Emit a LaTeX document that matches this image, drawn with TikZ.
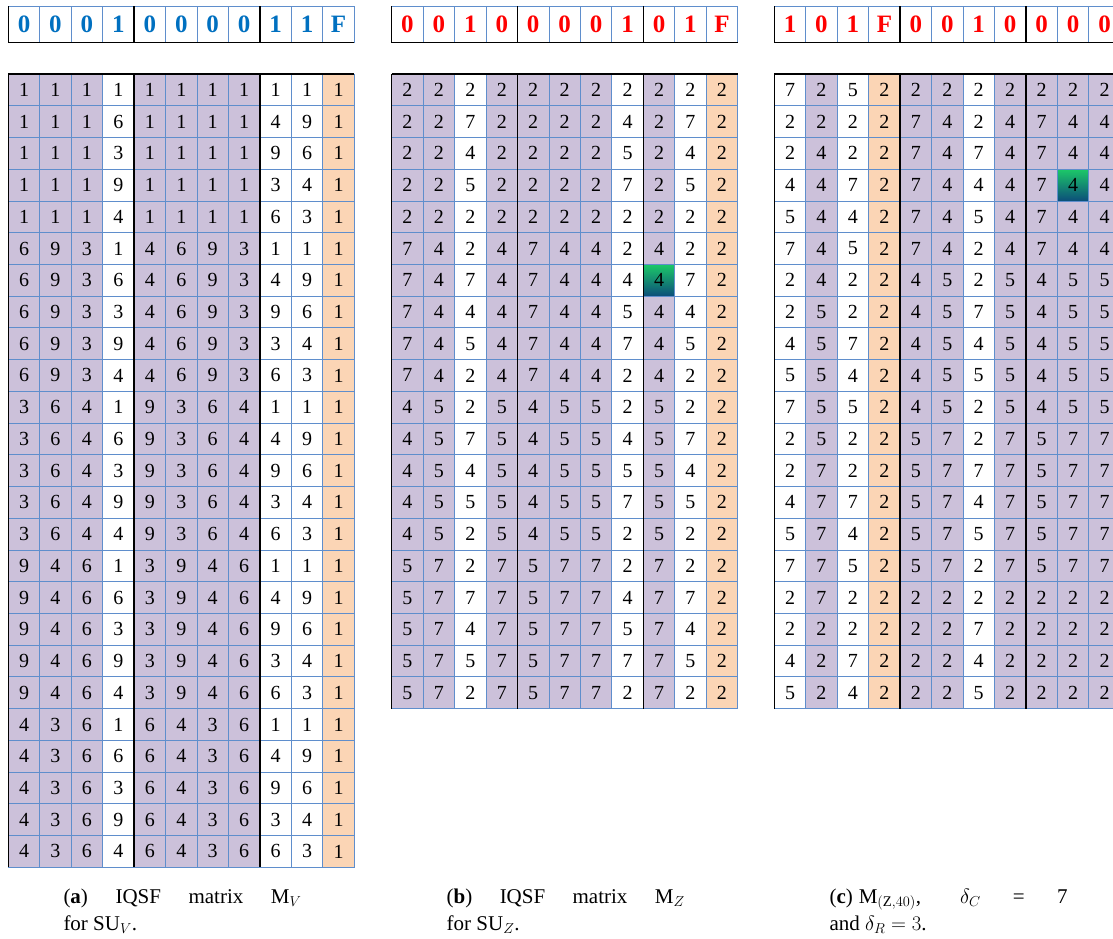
\documentclass[tikz,border=0pt]{standalone}
\usepackage{fontspec}
\setmainfont{Liberation Serif}
\definecolor{gridblue}{RGB}{95,142,204}
\definecolor{mpurple}{RGB}{204,193,218}
\definecolor{morange}{RGB}{251,213,181}
\definecolor{hblue}{RGB}{0,112,192}
\definecolor{hred}{RGB}{255,0,0}
\definecolor{gtop}{RGB}{28,200,104}
\definecolor{gbot}{RGB}{12,78,122}
\newcommand\fillA[1]{\ifcase#1\or mpurple\or mpurple\or mpurple\or white\or mpurple\or mpurple\or mpurple\or mpurple\or white\or white\or morange\fi}
\newcommand\fillB[1]{\ifcase#1\or mpurple\or mpurple\or white\or mpurple\or mpurple\or mpurple\or mpurple\or white\or mpurple\or white\or morange\fi}
\newcommand\fillC[1]{\ifcase#1\or white\or mpurple\or white\or morange\or mpurple\or mpurple\or white\or mpurple\or mpurple\or mpurple\or mpurple\fi}
\tikzset{
  cell/.style={draw=gridblue, line width=0.8pt, minimum width=31.45pt, minimum height=31.73pt,
    inner sep=0pt, outer sep=0pt, font=\fontsize{20}{23}\selectfont, text=black},
  hcell/.style={draw=gridblue, line width=0.8pt, minimum width=31.45pt, minimum height=36.7pt,
    inner sep=0pt, outer sep=0pt, fill=white, font=\fontsize{25}{29}\selectfont\bfseries},
  blk/.style={draw=black, line width=1.3pt},
  captxt/.style={anchor=base west, inner sep=0pt, font=\fontsize{21}{26}\selectfont},
}
% #1 prefix, #2 x0, #3 fill macro, #4 hl row, #5 hl col, #6 rows
\newcommand\drawmat[6]{%
  \foreach \row [count=\r] in {#6} {
    \foreach \v [count=\c] in \row {
      \edef\cc{#3{\c}}
      \def\hl{0}\ifnum\r=#4 \ifnum\c=#5 \def\hl{1}\fi\fi
      \ifnum\hl=1
        \node[cell, top color=gtop, bottom color=gbot] (#1-\r-\c) at ({#2+(\c-0.5)*31.45},{74+(\r-0.5)*31.73}) {\v};
      \else
        \node[cell, fill=\cc] (#1-\r-\c) at ({#2+(\c-0.5)*31.45},{74+(\r-0.5)*31.73}) {\v};
      \fi
    }
  }
}
\newcommand\drawhead[4]{% #1 prefix, #2 x0, #3 colour, #4 values
  \foreach \v [count=\c] in {#4} {
    \node[hcell, text=#3] (#1-\c) at ({#2+(\c-0.5)*31.45},24.35) {\v};
  }
}
\begin{document}
\begin{tikzpicture}[x=1pt,y=-1pt]
\useasboundingbox (0,0) rectangle (1113,938);
\fill[white] (0,0) rectangle (1113,938);

% ---------- (a) ----------
\drawhead{ha}{8.3}{hblue}{0,0,0,1,0,0,0,0,1,1,F}
\drawmat{a}{8.3}{\fillA}{0}{0}{%
{1,1,1,1,1,1,1,1,1,1,1},{1,1,1,6,1,1,1,1,4,9,1},{1,1,1,3,1,1,1,1,9,6,1},{1,1,1,9,1,1,1,1,3,4,1},{1,1,1,4,1,1,1,1,6,3,1},
{6,9,3,1,4,6,9,3,1,1,1},{6,9,3,6,4,6,9,3,4,9,1},{6,9,3,3,4,6,9,3,9,6,1},{6,9,3,9,4,6,9,3,3,4,1},{6,9,3,4,4,6,9,3,6,3,1},
{3,6,4,1,9,3,6,4,1,1,1},{3,6,4,6,9,3,6,4,4,9,1},{3,6,4,3,9,3,6,4,9,6,1},{3,6,4,9,9,3,6,4,3,4,1},{3,6,4,4,9,3,6,4,6,3,1},
{9,4,6,1,3,9,4,6,1,1,1},{9,4,6,6,3,9,4,6,4,9,1},{9,4,6,3,3,9,4,6,9,6,1},{9,4,6,9,3,9,4,6,3,4,1},{9,4,6,4,3,9,4,6,6,3,1},
{4,3,6,1,6,4,3,6,1,1,1},{4,3,6,6,6,4,3,6,4,9,1},{4,3,6,3,6,4,3,6,9,6,1},{4,3,6,9,6,4,3,6,3,4,1},{4,3,6,4,6,4,3,6,6,3,1}}
\draw[blk] (ha-1.north west) -- (ha-1.south west);
\draw[blk] (ha-4.north east) -- (ha-4.south east);
\draw[blk] (ha-8.north east) -- (ha-8.south east);
\draw[blk] (ha-1.south west) -- (ha-11.south east);
\draw[blk] (a-1-1.north west) -- (a-1-11.north east);
\draw[blk] (a-1-1.north west) -- (a-25-1.south west);
\draw[blk] (a-1-4.north east) -- (a-25-4.south east);
\draw[blk] (a-1-8.north east) -- (a-25-8.south east);

% ---------- (b) ----------
\drawhead{hb}{391.7}{hred}{0,0,1,0,0,0,0,1,0,1,F}
\drawmat{b}{391.7}{\fillB}{7}{9}{%
{2,2,2,2,2,2,2,2,2,2,2},{2,2,7,2,2,2,2,4,2,7,2},{2,2,4,2,2,2,2,5,2,4,2},{2,2,5,2,2,2,2,7,2,5,2},{2,2,2,2,2,2,2,2,2,2,2},
{7,4,2,4,7,4,4,2,4,2,2},{7,4,7,4,7,4,4,4,4,7,2},{7,4,4,4,7,4,4,5,4,4,2},{7,4,5,4,7,4,4,7,4,5,2},{7,4,2,4,7,4,4,2,4,2,2},
{4,5,2,5,4,5,5,2,5,2,2},{4,5,7,5,4,5,5,4,5,7,2},{4,5,4,5,4,5,5,5,5,4,2},{4,5,5,5,4,5,5,7,5,5,2},{4,5,2,5,4,5,5,2,5,2,2},
{5,7,2,7,5,7,7,2,7,2,2},{5,7,7,7,5,7,7,4,7,7,2},{5,7,4,7,5,7,7,5,7,4,2},{5,7,5,7,5,7,7,7,7,5,2},{5,7,2,7,5,7,7,2,7,2,2}}
\draw[blk] (hb-1.north west) -- (hb-1.south west);
\draw[blk] (hb-4.north east) -- (hb-4.south east);
\draw[blk] (hb-8.north east) -- (hb-8.south east);
\draw[blk] (hb-1.south west) -- (hb-11.south east);
\draw[blk] (b-1-1.north west) -- (b-1-11.north east);
\draw[blk] (b-1-1.north west) -- (b-20-1.south west);
\draw[blk] (b-1-4.north east) -- (b-20-4.south east);
\draw[blk] (b-1-8.north east) -- (b-20-8.south east);

% ---------- (c) ----------
\drawhead{hc}{774.3}{hred}{1,0,1,F,0,0,1,0,0,0,0}
\drawmat{c}{774.3}{\fillC}{4}{10}{%
{7,2,5,2,2,2,2,2,2,2,2},{2,2,2,2,7,4,2,4,7,4,4},{2,4,2,2,7,4,7,4,7,4,4},{4,4,7,2,7,4,4,4,7,4,4},{5,4,4,2,7,4,5,4,7,4,4},
{7,4,5,2,7,4,2,4,7,4,4},{2,4,2,2,4,5,2,5,4,5,5},{2,5,2,2,4,5,7,5,4,5,5},{4,5,7,2,4,5,4,5,4,5,5},{5,5,4,2,4,5,5,5,4,5,5},
{7,5,5,2,4,5,2,5,4,5,5},{2,5,2,2,5,7,2,7,5,7,7},{2,7,2,2,5,7,7,7,5,7,7},{4,7,7,2,5,7,4,7,5,7,7},{5,7,4,2,5,7,5,7,5,7,7},
{7,7,5,2,5,7,2,7,5,7,7},{2,7,2,2,2,2,2,2,2,2,2},{2,2,2,2,2,2,7,2,2,2,2},{4,2,7,2,2,2,4,2,2,2,2},{5,2,4,2,2,2,5,2,2,2,2}}
\draw[blk] (hc-1.north west) -- (hc-1.south west);
\draw[blk] (hc-4.north east) -- (hc-4.south east);
\draw[blk] (hc-8.north east) -- (hc-8.south east);
\draw[blk] (hc-1.south west) -- (hc-11.south east);
\draw[blk] (c-1-1.north west) -- (c-1-11.north east);
\draw[blk] (c-1-1.north west) -- (c-20-1.south west);
\draw[blk] (c-1-4.north east) -- (c-20-4.south east);
\draw[blk] (c-1-8.north east) -- (c-20-8.south east);

% ---------- captions ----------
\node[captxt] (capa1) at (63.3,903) {\makebox[238pt][s]{(\textbf{a}) IQSF matrix M$_V$}};
\node[captxt] (capa2) at (63.3,930) {for SU$_V$.};
\node[captxt] (capb1) at (446.5,903) {\makebox[238pt][s]{(\textbf{b}) IQSF matrix M$_Z$}};
\node[captxt] (capb2) at (446.5,930) {for SU$_Z$.};
\node[captxt] (capc1) at (829.3,903) {\makebox[238pt][s]{(\textbf{c})\hspace{6pt}M$_{(\mathrm{Z},40)}$, $\delta_C$ = 7}};
\node[captxt] (capc2) at (829.3,930) {and $\delta_R = 3$.};
\end{tikzpicture}
\end{document}
